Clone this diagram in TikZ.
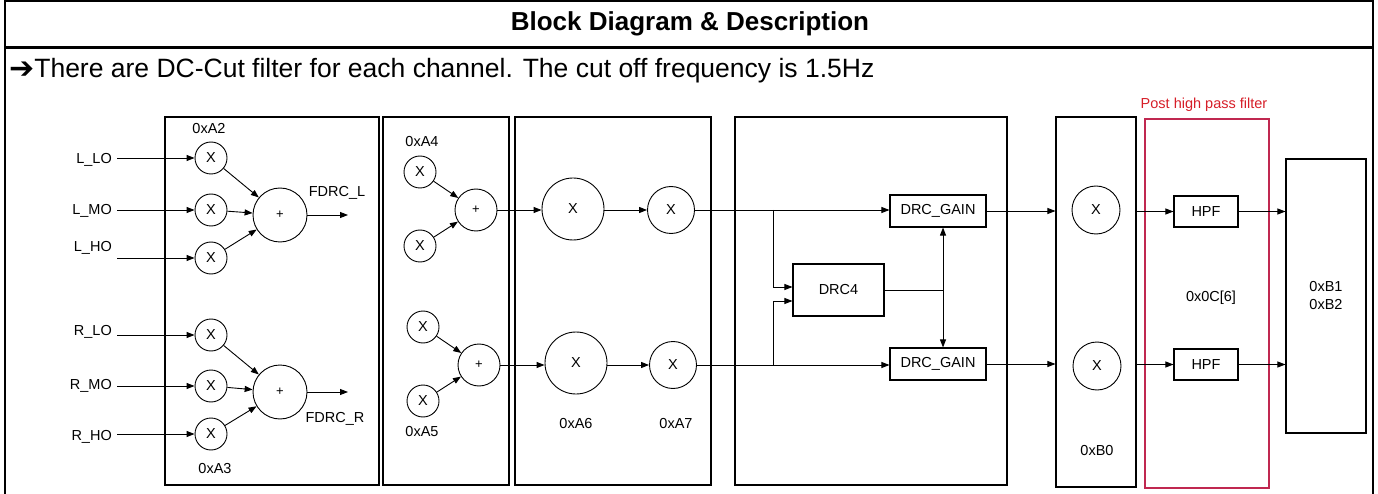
\documentclass[tikz,border=0pt]{standalone}
\usepackage{fontspec}
\setmainfont{Liberation Sans}
\newfontfamily\arrowfont{DejaVu Sans}
\usepackage{tikz}
\usetikzlibrary{calc, arrows.meta, positioning}
\usepackage{xcolor}
\definecolor{postred}{RGB}{192,40,80}
\definecolor{posttext}{RGB}{214,30,40}

\begin{document}
\begin{tikzpicture}[x=1pt, y=-1pt,
    lbl/.style={font=\fontsize{14.5}{16}\selectfont, inner sep=0pt},
    blk/.style={draw, line width=1.1pt, inner sep=0pt},
    mul/.style={draw, circle, line width=0.9pt, inner sep=0pt, font=\fontsize{14.5}{16}\selectfont},
    add/.style={draw, circle, line width=0.9pt, inner sep=0pt, font=\fontsize{13}{14}\selectfont},
    gainbox/.style={draw, line width=1.1pt, inner sep=0pt, font=\fontsize{14.5}{16}\selectfont},
    arr/.style={-{Triangle[length=8pt, width=6pt]}, line width=0.9pt},
    frame/.style={line width=2.4pt}]
  \useasboundingbox (0,0) rectangle (1378,494);
  \draw[frame] (5,494) -- (5,1.2) -- (1373,1.2) -- (1373,494);
  \draw[frame] (5,47.5) -- (1373,47.5);
  \node[font=\bfseries\fontsize{26}{30}\selectfont] (ttl) at (690,24) {Block Diagram \& Description};
  \node[anchor=base west, inner sep=0pt, font=\fontsize{26.5}{30}\selectfont] (desc) at (9,78)
    {\raisebox{-1pt}{\arrowfont\bfseries\fontsize{30}{30}\selectfont ➔}There are DC-Cut filter for each channel. The cut off frequency is 1.5Hz};

  % outer blocks
  \node[blk, minimum width=214, minimum height=368] (blk1) at (272,301) {};
  \node[blk, minimum width=126, minimum height=368] (blk2) at (446,301) {};
  \node[blk, minimum width=196, minimum height=368] (blk3) at (613,301) {};
  \node[blk, minimum width=272, minimum height=368] (blk4) at (871,301) {};
  \node[blk, minimum width=80, minimum height=370] (blk5) at (1096,302) {};
  \node[draw=postred, line width=1.1pt, minimum width=124, minimum height=369] (post) at (1207,303.5) {};
  \node[blk, minimum width=80, minimum height=274, align=center, font=\fontsize{14.5}{18}\selectfont] (blk7) at (1326,296) {0xB1\\0xB2};
  \node[lbl, text=posttext] (postlbl) at (1204,105) {Post high pass filter};

  % first block: mixers
  \node[mul, minimum size=32] (mLLO) at (211,158) {X};
  \node[mul, minimum size=32] (mLMO) at (211,210) {X};
  \node[mul, minimum size=32] (mLHO) at (211,258) {X};
  \node[mul, minimum size=32] (mRLO) at (211,335) {X};
  \node[mul, minimum size=32] (mRMO) at (211,386) {X};
  \node[mul, minimum size=32] (mRHO) at (211,434) {X};
  \node[add, minimum size=54] (sumL) at (280,215) {+};
  \node[add, minimum size=54] (sumR) at (280,392) {+};
  \node[lbl, anchor=east] (iLLO) at (112,160) {L\_LO};
  \node[lbl, anchor=east] (iLMO) at (112,211) {L\_MO};
  \node[lbl, anchor=east] (iLHO) at (112,248) {L\_HO};
  \node[lbl, anchor=east] (iRLO) at (112,332) {R\_LO};
  \node[lbl, anchor=east] (iRMO) at (112,386) {R\_MO};
  \node[lbl, anchor=east] (iRHO) at (112,437) {R\_HO};
  \coordinate (sLHO) at (117,258);
  \draw[arr] ([xshift=5pt]iLLO.east |- mLLO) -- (mLLO);
  \draw[arr] ([xshift=5pt]iLMO.east |- mLMO) -- (mLMO);
  \draw[arr] (sLHO) -- (mLHO);
  \draw[arr] ([xshift=5pt]iRLO.east |- mRLO) -- (mRLO);
  \draw[arr] ([xshift=5pt]iRMO.east |- mRMO) -- (mRMO);
  \draw[arr] ([xshift=5pt]iRHO.east |- mRHO) -- (mRHO);
  \foreach \m in {LLO, LMO, LHO} \draw[arr] (m\m) -- (sumL);
  \foreach \m in {RLO, RMO, RHO} \draw[arr] (m\m) -- (sumR);
  \coordinate (oL) at (348,215);
  \coordinate (oR) at (348,392);
  \draw[arr] (sumL) -- (oL);
  \draw[arr] (sumR) -- (oR);
  \node[lbl] (fL) at (337,193) {FDRC\_L};
  \node[lbl] (fR) at (335,419) {FDRC\_R};
  \node[lbl] (rA2) at (209,129) {0xA2};
  \node[lbl] (rA3) at (215,469) {0xA3};

  % second block
  \node[mul, minimum size=32] (aT1) at (420,172) {X};
  \node[mul, minimum size=32] (aT2) at (420,246) {X};
  \node[add, minimum size=42] (pT) at (476,210) {+};
  \node[mul, minimum size=32] (aB1) at (423,327) {X};
  \node[mul, minimum size=32] (aB2) at (423,401) {X};
  \node[add, minimum size=42] (pB) at (479,365) {+};
  \draw[arr] (aT1) -- (pT);
  \draw[arr] (aT2) -- (pT);
  \draw[arr] (aB1) -- (pB);
  \draw[arr] (aB2) -- (pB);
  \node[lbl] (rA4) at (422,142) {0xA4};
  \node[lbl] (rA5) at (422,432) {0xA5};

  % third block
  \node[mul, minimum size=62] (gT) at (573,209) {X};
  \node[mul, minimum size=47] (vT) at (671,210) {X};
  \node[mul, minimum size=62] (gB) at (576,363) {X};
  \node[mul, minimum size=47] (vB) at (673,365) {X};
  \draw[arr] (pT) -- (pT -| gT.west);
  \draw[arr] (gT.east |- vT) -- (vT);
  \draw[arr] (pB) -- (pB -| gB.west);
  \draw[arr] (gB.east |- vB) -- (vB);
  \node[lbl] (rA6) at (576,424) {0xA6};
  \node[lbl] (rA7) at (676,424) {0xA7};

  % DRC block
  \node[gainbox, minimum width=96, minimum height=32] (gainT) at (938,211) {DRC\_GAIN};
  \node[gainbox, minimum width=96, minimum height=32] (gainB) at (938,364) {DRC\_GAIN};
  \node[gainbox, minimum width=91, minimum height=52] (drc) at (838.5,290) {DRC4};
  \draw[arr] (vT) -- (vT -| gainT.west);
  \draw[arr] (vB) -- (vB -| gainB.west);
  \coordinate (tapT) at (773,210);
  \coordinate (tapB) at (773,365);
  \draw[arr] (tapT) |- ([yshift=3pt]drc.west);
  \draw[arr] (tapB) |- ([yshift=-11pt]drc.west);
  \coordinate (jn) at ([xshift=5pt]gainT.south);
  \draw[{Triangle[length=8pt, width=6pt]}-{Triangle[length=8pt, width=6pt]}, line width=0.9pt]
    (jn) -- (jn |- gainB.north);
  \draw[line width=0.9pt] (drc.east) -- (drc.east -| jn);

  % volume, post filter and output
  \node[mul, minimum size=48] (volT) at (1096,210) {X};
  \node[mul, minimum size=48] (volB) at (1097,366) {X};
  \node[lbl] (rB0) at (1097,451) {0xB0};
  \draw[arr] (gainT) -- (gainT -| blk5.west);
  \draw[arr] (gainB) -- (gainB -| blk5.west);
  \node[gainbox, minimum width=64, minimum height=31] (hpfT) at (1206,211.5) {HPF};
  \node[gainbox, minimum width=64, minimum height=31] (hpfB) at (1206,364.5) {HPF};
  \draw[arr] (hpfT -| blk5.east) -- (hpfT);
  \draw[arr] (hpfB -| blk5.east) -- (hpfB);
  \draw[arr] (hpfT) -- (hpfT -| blk7.west);
  \draw[arr] (hpfB) -- (hpfB -| blk7.west);
  \node[lbl] (r0C) at (1211,298) {0x0C[6]};
\end{tikzpicture}
\end{document}
